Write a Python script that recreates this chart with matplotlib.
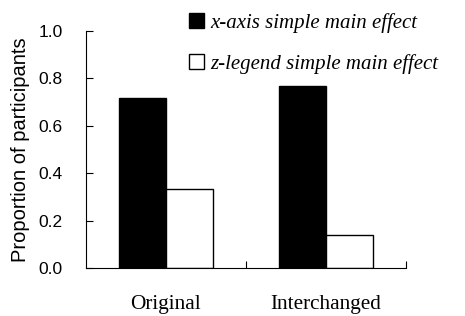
import matplotlib
matplotlib.use("Agg")
import matplotlib.pyplot as plt
import numpy as np

categories = ["Original", "Interchanged"]
series_names = ["x-axis simple main effect", "z-legend simple main effect"]
x_axis_effect = [0.715, 0.766]
z_legend_effect = [0.334, 0.14]
y_ticks = [0.0, 0.2, 0.4, 0.6, 0.8, 1.0]

fig = plt.figure(figsize=(4.65, 3.16), dpi=100)
ax = fig.add_axes([86/465, 1-268/316, (405.7-86)/465, (268-30.7)/316])

pos = np.arange(len(categories)) + 0.5
w = 0.295
ax.bar(pos - w/2, x_axis_effect, width=w, color="black", edgecolor="black", linewidth=1, label=series_names[0])
ax.bar(pos + w/2, z_legend_effect, width=w, color="white", edgecolor="black", linewidth=1, label=series_names[1])

ax.set_xlim(0, 2)
ax.set_ylim(0, 1.0)
ax.set_yticks(y_ticks)
ax.set_yticklabels([f"{v:.1f}" for v in y_ticks], fontfamily="Liberation Sans", fontsize=12.5)
ax.set_xticks([1, 2])
ax.set_xticklabels([])
for x, c in zip(pos, categories):
    ax.text(x, -0.155, c, transform=ax.transData, ha="center", va="center",
            fontfamily="Liberation Serif", fontsize=15.3)
ax.tick_params(axis="y", direction="in", length=5, width=0.8, pad=17)
ax.tick_params(axis="x", direction="in", length=5, width=0.8)
ax.spines["top"].set_visible(False)
ax.spines["right"].set_visible(False)
for s in ["left", "bottom"]:
    ax.spines[s].set_linewidth(0.8)
ax.set_ylabel("Proportion of participants", fontfamily="Liberation Sans", fontsize=14.5, labelpad=6)

leg = ax.legend(loc="upper left", bbox_to_anchor=(189/465, 1-13/316), bbox_transform=fig.transFigure,
                frameon=False, prop={"family": "Liberation Serif", "style": "italic", "size": 15},
                handlelength=0.72, handleheight=0.72, handletextpad=0.3, labelspacing=1.0, borderpad=0, borderaxespad=0)

fig.savefig("out.png", dpi=100)
